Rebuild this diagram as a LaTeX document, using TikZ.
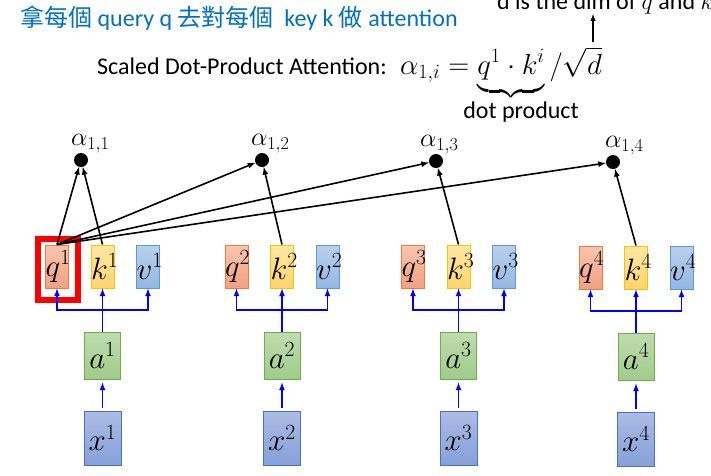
\RequirePackage{fix-cm}
\documentclass[tikz,border=0pt]{standalone}
\usepackage{amsmath}
\usepackage{fontspec}
\setmainfont{Carlito}
\newfontfamily\cjkfont{Noto Sans CJK TC}
\usetikzlibrary{arrows, calc, positioning}

\definecolor{titleblue}{RGB}{0,112,192}
\definecolor{qline}{RGB}{237,125,49}
\definecolor{qtop}{RGB}{248,198,176}
\definecolor{qbot}{RGB}{242,160,128}
\definecolor{kline}{RGB}{255,192,0}
\definecolor{ktop}{RGB}{255,232,165}
\definecolor{kbot}{RGB}{255,212,110}
\definecolor{vline}{RGB}{91,155,213}
\definecolor{vtop}{RGB}{185,208,236}
\definecolor{vbot}{RGB}{148,184,226}
\definecolor{aline}{RGB}{112,173,71}
\definecolor{atop}{RGB}{190,220,175}
\definecolor{abot}{RGB}{160,204,138}
\definecolor{xline}{RGB}{68,114,196}
\definecolor{xtop}{RGB}{172,188,228}
\definecolor{xbot}{RGB}{134,160,216}

\tikzset{
  vec/.style={draw, line width=1pt, inner sep=0pt, minimum width=23pt,
    minimum height=43pt, font=\fontsize{31}{31}\selectfont},
  narrow/.style={text width=23pt, align=center},
  qbox/.style={vec, narrow, draw=qline, top color=qtop, bottom color=qbot},
  kbox/.style={vec, narrow, draw=kline, top color=ktop, bottom color=kbot},
  vbox/.style={vec, narrow, draw=vline, top color=vtop, bottom color=vbot},
  abox/.style={vec, draw=aline, top color=atop, bottom color=abot,
    minimum width=36pt, minimum height=47pt},
  xbox/.style={vec, draw=xline, top color=xtop, bottom color=xbot,
    minimum width=37pt, minimum height=54pt},
  dot/.style={circle, fill=black, inner sep=0pt, minimum size=14pt},
  albl/.style={inner sep=0pt, font=\fontsize{26}{26}\selectfont},
  feed/.style={->, line width=1.6pt, blue},
  score/.style={->, line width=1.6pt, black},
  txt/.style={inner sep=0pt, font=\fontsize{24}{28}\selectfont},
}

\begin{document}
\begin{tikzpicture}[>=latex, x=1pt, y=-1pt]
\useasboundingbox (0,0) rectangle (711,475);

% texts on top
\node[txt, anchor=base west, text=titleblue] (title) at (20,26)
  {{\cjkfont 拿每個} query q {\cjkfont 去對每個} \ key k {\cjkfont 做} attention};
\node[txt, anchor=base west] (dimnote) at (497,9) {d is the dim of $q$ and $k$};
\node[txt, anchor=base west] (sdpa) at (97,74) {Scaled Dot-Product Attention:};
\node[txt, anchor=base west, font=\fontsize{29}{30}\selectfont] (attn) at (400,74)
  {$\alpha_{1,i}=\underbrace{q^1\cdot k^i\rule[-13pt]{0pt}{13pt}}/\sqrt{d}$};
\node[txt] (dotprod) at (521,112) {dot product};

\coordinate (sqd) at (593,42);
\draw[->, line width=1.4pt] (sqd) -- (sqd |- dimnote.south);

% group 1
\node[qbox] (q1) at (57,266.5) {$q^1$};
\node[kbox, right = 21.5pt of q1] (k1) {$k^1$};
\node[vbox, right = 21.5pt of k1] (v1) {$v^1$};
\node[abox, below = 43pt of k1] (a1) {$a^1$};
\node[xbox, below = 31pt of a1] (x1) {$x^1$};

% group 2
\node[qbox] (q2) at (236.5,266.5) {$q^2$};
\node[kbox, right = 21.5pt of q2] (k2) {$k^2$};
\node[vbox, right = 21.5pt of k2] (v2) {$v^2$};
\node[abox, below = 43pt of k2] (a2) {$a^2$};
\node[xbox, below = 31pt of a2] (x2) {$x^2$};

% group 3
\node[qbox] (q3) at (413,266.5) {$q^3$};
\node[kbox, right = 21.5pt of q3] (k3) {$k^3$};
\node[vbox, right = 21.5pt of k3] (v3) {$v^3$};
\node[abox, below = 43pt of k3] (a3) {$a^3$};
\node[xbox, below = 31pt of a3] (x3) {$x^3$};

% group 4
\node[qbox] (q4) at (590.5,267.5) {$q^4$};
\node[kbox, right = 21.5pt of q4] (k4) {$k^4$};
\node[vbox, right = 21.5pt of k4] (v4) {$v^4$};
\node[abox, below = 43pt of k4] (a4) {$a^4$};
\node[xbox, below = 31pt of a4] (x4) {$x^4$};

% attention scores
\node[dot] (al1) at (81,160) {};
\node[dot] (al2) at (262,160) {};
\node[dot] (al3) at (436,161) {};
\node[dot] (al4) at (613,162) {};
\node[albl, above right = 0pt and -10pt of al1.north] {$\alpha_{1,1}$};
\node[albl, above right = 0pt and -11pt of al2.north] {$\alpha_{1,2}$};
\node[albl, above right = 0pt and -16pt of al3.north] {$\alpha_{1,3}$};
\node[albl, above right = 0pt and -8pt of al4.north] {$\alpha_{1,4}$};

% red frame round q1
\draw[red, line width=6pt] ($(q1.north west)+(-7.5,-6)$) rectangle ($(q1.south east)+(8.5,11)$);

% x -> a -> q, k, v
\foreach \i in {1,2,3,4}{
  \coordinate (h\i) at ($(k\i.south)!0.5!(a\i.north)$);
  \draw[feed, shorten <=3pt, shorten >=3pt] (x\i) -- (a\i);
  \draw[feed] (a\i.north) -- (k\i.south);
  \draw[feed] (h\i) -| (q\i.south);
  \draw[feed] (h\i) -| (v\i.south);
}

% q1 against every key
\draw[score] (q1.north) -- (al1);
\draw[score] (k1.north) -- (al1);
\draw[score] (q1.north) -- (al2);
\draw[score] (k2.north) -- (al2);
\draw[score] (q1.north) -- (al3);
\draw[score] (k3.north) -- (al3);
\draw[score] (q1.north) -- (al4);
\draw[score] (k4.north) -- (al4);

\end{tikzpicture}
\end{document}
